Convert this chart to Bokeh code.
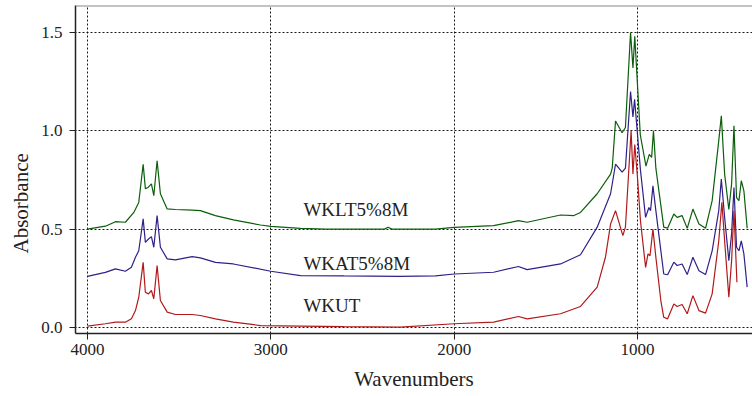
from bokeh.plotting import figure
from bokeh.models import Range1d, FixedTicker, PrintfTickFormatter, Span, Title
from bokeh.core.properties import value
from bokeh.embed import file_html
from bokeh.resources import INLINE

# ---- data ----
wn_green = [4000, 3902, 3847, 3793, 3747, 3720, 3696, 3684, 3669, 3651, 3638, 3620, 3602, 3565,
            3520, 3429, 3384, 3302, 3204, 3056, 3000, 2838, 2700, 2500, 2380, 2360, 2340, 2200, 2102,
            2000, 1785, 1649, 1602, 1420, 1347, 1311, 1220, 1147, 1138, 1120, 1084, 1066, 1038,
            1025, 1015, 985, 954, 936, 923, 913, 900, 857, 836, 802, 784, 757, 729, 698, 665, 629,
            593, 557, 543, 525, 502, 487, 474, 460, 447, 434, 420, 402]
a_green = [0.500, 0.515, 0.538, 0.535, 0.585, 0.636, 0.830, 0.706, 0.712, 0.730, 0.670, 0.848, 0.680, 0.603,
           0.600, 0.597, 0.594, 0.569, 0.547, 0.521, 0.514, 0.504, 0.500, 0.500, 0.500, 0.510, 0.500, 0.500, 0.500,
           0.509, 0.518, 0.543, 0.535, 0.572, 0.569, 0.585, 0.680, 0.780, 0.810, 1.050, 0.990, 1.017, 1.500,
           1.320, 1.480, 0.980, 0.820, 0.880, 0.865, 1.000, 0.810, 0.510, 0.505, 0.577, 0.560, 0.569, 0.504,
           0.602, 0.526, 0.504, 0.645, 0.950, 1.076, 0.780, 0.600, 0.730, 1.025, 0.660, 0.645, 0.746, 0.695,
           0.504]

wn_blue = [4000, 3902, 3847, 3793, 3760, 3738, 3720, 3696, 3684, 3667, 3651, 3638, 3620, 3602, 3565,
           3520, 3429, 3384, 3302, 3204, 3000, 2838, 2600, 2300, 2102, 2000, 1785, 1649, 1602, 1420,
           1311, 1220, 1147, 1120, 1084, 1066, 1038, 1025, 1016, 984, 956, 938, 929, 916, 900, 857,
           836, 802, 784, 757, 729, 698, 665, 629, 593, 557, 543, 525, 502, 487, 474, 460, 447, 434,
           420, 402]
a_blue = [0.260, 0.280, 0.298, 0.286, 0.306, 0.357, 0.390, 0.552, 0.433, 0.450, 0.462, 0.408, 0.569, 0.408, 0.349,
          0.344, 0.360, 0.354, 0.331, 0.323, 0.286, 0.264, 0.262, 0.260, 0.262, 0.272, 0.281, 0.310, 0.294, 0.323,
          0.370, 0.510, 0.680, 0.830, 0.790, 0.810, 1.200, 1.070, 1.160, 0.800, 0.560, 0.610, 0.594, 0.720, 0.594, 0.272,
          0.268, 0.332, 0.315, 0.323, 0.269, 0.357, 0.289, 0.269, 0.390, 0.594, 0.755, 0.560, 0.340, 0.476, 0.712,
          0.408, 0.390, 0.440, 0.374, 0.205]

wn_red = [4000, 3902, 3847, 3793, 3760, 3738, 3720, 3696, 3684, 3667, 3651, 3638, 3620, 3602, 3565,
          3520, 3429, 3384, 3302, 3204, 3056, 2838, 2600, 2293, 2000, 1785, 1649, 1602, 1420, 1311,
          1220, 1175, 1147, 1120, 1080, 1066, 1035, 1025, 1015, 1000, 984, 956, 943, 932, 916, 900,
          873, 857, 836, 802, 784, 757, 729, 698, 665, 629, 593, 557, 540, 525, 502, 487, 474, 458]
a_red = [0.007, 0.019, 0.027, 0.027, 0.044, 0.086, 0.154, 0.331, 0.179, 0.171, 0.188, 0.146, 0.315, 0.137, 0.078,
         0.066, 0.066, 0.061, 0.044, 0.027, 0.010, 0.007, 0.004, 0.002, 0.019, 0.027, 0.056, 0.044, 0.070, 0.107,
         0.205, 0.357, 0.526, 0.594, 0.467, 0.510, 1.000, 0.780, 0.930, 0.760, 0.543, 0.306, 0.374, 0.365, 0.500,
         0.357, 0.137, 0.052, 0.044, 0.120, 0.107, 0.117, 0.070, 0.162, 0.086, 0.073, 0.171, 0.440, 0.636, 0.440,
         0.154, 0.340, 0.594, 0.230]

label_text = ["WKLT5%8M", "WKAT5%8M", "WKUT"]
label_x = [2822, 2822, 2822]
label_y = [0.600, 0.325, 0.113]

x_ticks = [4000, 3000, 2000, 1000]
y_ticks = [0.0, 0.5, 1.0, 1.5]

SERIF = "Liberation Serif"
INK = "#222222"

p = figure(width=752, height=396, output_backend="svg", toolbar_location=None,
           x_range=Range1d(4065, 373), y_range=Range1d(-0.0305, 1.637),
           min_border_left=75, min_border_right=0, min_border_top=5, min_border_bottom=63)
p.background_fill_color = "white"
p.border_fill_color = "white"
p.outline_line_color = None

# grid
for g in (p.xgrid, p.ygrid):
    g.grid_line_color = "black"
    g.grid_line_dash = "2 2"
    g.grid_line_width = 1
    g.grid_line_alpha = 0.9
p.xaxis.ticker = FixedTicker(ticks=x_ticks)
p.yaxis.ticker = FixedTicker(ticks=y_ticks)
p.xgrid.ticker = FixedTicker(ticks=x_ticks)
p.ygrid.ticker = FixedTicker(ticks=y_ticks)
p.xaxis.formatter = PrintfTickFormatter(format="%d")
p.yaxis.formatter = PrintfTickFormatter(format="%.1f")

for ax in (p.xaxis[0], p.yaxis[0]):
    ax.axis_line_color = INK
    ax.axis_line_width = 1.5
    ax.major_tick_line_color = INK
    ax.major_tick_in = 0
    ax.major_tick_out = 6
    ax.minor_tick_line_color = None
    ax.major_label_text_font = SERIF
    ax.major_label_text_font_size = "17px"
    ax.major_label_text_color = INK
    ax.axis_label_text_font = SERIF
    ax.axis_label_text_font_size = "21px"
    ax.axis_label_text_font_style = "normal"
    ax.axis_label_text_color = INK

p.xaxis.axis_label = "Wavenumbers"
p.xaxis.major_label_standoff = 4
p.xaxis.axis_label_standoff = 9
p.yaxis.major_label_standoff = 7

# y-axis title, placed lower than the frame centre as in the reference
p.add_layout(Title(text="Absorbance", align="left", offset=80, standoff=11,
                   text_font=SERIF, text_font_size="21px", text_font_style="normal",
                   text_color=INK), "left")

# top frame line
p.add_layout(Span(location=1.637, dimension="width", line_color="#888888", line_width=2))

p.line(wn_green, a_green, line_color="#0b5e0b", line_width=1.2)
p.line(wn_blue, a_blue, line_color="#2f2088", line_width=1.2)
p.line(wn_red, a_red, line_color="#b2191b", line_width=1.2)

p.text(x=label_x, y=label_y, text=label_text, text_font=value(SERIF),
       text_font_size="19px", text_color=INK, text_baseline="alphabetic", text_align="left")

open("out.html", "w").write(file_html(p, INLINE))
